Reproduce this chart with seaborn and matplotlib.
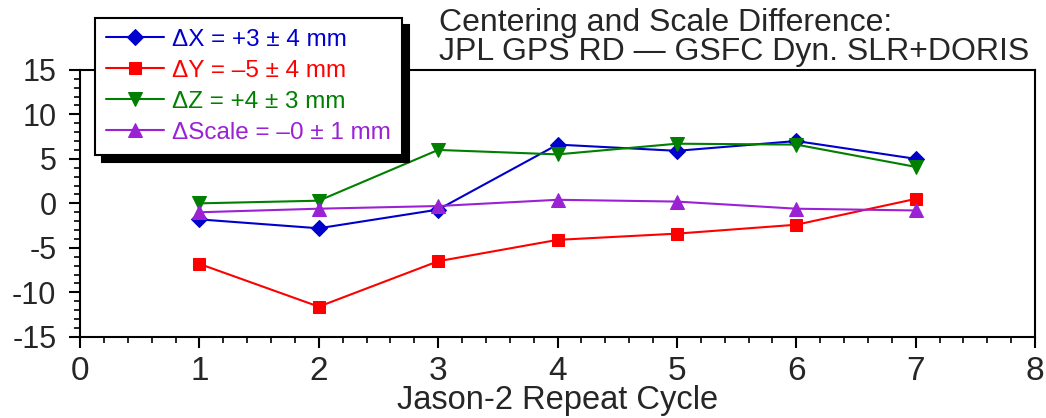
import matplotlib
matplotlib.use("Agg")
import matplotlib.pyplot as plt
import seaborn as sns
import pandas as pd
from matplotlib.ticker import MultipleLocator

cycles = [1, 2, 3, 4, 5, 6, 7]
dx = [-1.8, -2.8, -0.7, 6.6, 5.9, 7.0, 5.0]
dy = [-6.8, -11.6, -6.5, -4.1, -3.4, -2.4, 0.5]
dz = [0.0, 0.3, 6.0, 5.5, 6.7, 6.6, 4.1]
dscale = [-1.0, -0.6, -0.3, 0.4, 0.2, -0.6, -0.8]

labels = ["\u0394X = +3 \u00b1 4 mm", "\u0394Y = \u20135 \u00b1 4 mm",
          "\u0394Z = +4 \u00b1 3 mm", "\u0394Scale = \u20130 \u00b1 1 mm"]
colors = ["#0000CC", "#FF0000", "#007F00", "#9A22D4"]
markers = ["D", "s", "v", "^"]
msizes = [8, 9, 10, 10]

sns.set_style("ticks")
plt.rcParams["font.family"] = ["Liberation Sans", "DejaVu Sans"]
plt.rcParams["axes.unicode_minus"] = False

fig = plt.figure(figsize=(10.46, 4.18), dpi=100)
ax = fig.add_axes([0.0765, 0.194, 0.913, 0.639])

for vals, lab, c, m, ms in zip([dx, dy, dz, dscale], labels, colors, markers, msizes):
    df = pd.DataFrame({"cycle": cycles, "val": vals})
    sns.lineplot(data=df, x="cycle", y="val", ax=ax, color=c, marker=m,
                 markersize=ms, markeredgecolor=c, linewidth=1.5, label=lab)

ax.set_xlim(0, 8)
ax.set_ylim(-15, 15)
ax.xaxis.set_major_locator(MultipleLocator(1))
ax.xaxis.set_minor_locator(MultipleLocator(0.2))
ax.yaxis.set_major_locator(MultipleLocator(5))
ax.yaxis.set_minor_locator(MultipleLocator(1))
ax.tick_params(which="major", length=8, width=1.5, color="black", direction="out")
ax.tick_params(which="minor", length=4.5, width=1.2, color="black", direction="out")
ax.tick_params(axis="x", which="major", labelsize=24, pad=6)
ax.tick_params(axis="y", which="major", labelsize=22, pad=9)
for s in ax.spines.values():
    s.set_linewidth(1.5)
    s.set_color("black")
ax.set_xlabel("Jason-2 Repeat Cycle", fontsize=23.5, labelpad=-2)
ax.set_ylabel("")

leg = ax.legend(loc="upper left", bbox_to_anchor=(0.0905, 0.957), bbox_transform=fig.transFigure,
                fontsize=17.5, frameon=True, fancybox=False, handlelength=2.4,
                handletextpad=0.33, labelspacing=0.37, borderpad=0.45, borderaxespad=0,
                shadow={"color": "black", "alpha": 1.0, "ox": 5, "oy": -5})
leg.get_frame().set_edgecolor("black")
leg.get_frame().set_linewidth(1.5)
leg.get_frame().set_alpha(1.0)
for t, c in zip(leg.get_texts(), colors):
    t.set_color(c)

fig.text(0.42, 0.84, "Centering and Scale Difference:\nJPL GPS RD \u2014 GSFC Dyn. SLR+DORIS",
         fontsize=23, ha="left", va="bottom", linespacing=0.95,
         family=["Liberation Sans Narrow", "Liberation Sans", "DejaVu Sans"])

fig.savefig("out.png", dpi=100)
